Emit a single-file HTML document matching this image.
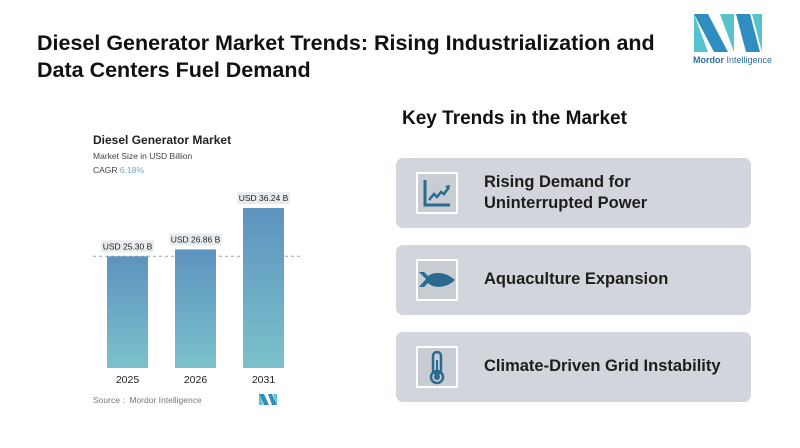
<!DOCTYPE html>
<html><head><meta charset="utf-8"><style>
body{margin:0;width:800px;height:448px;background:#fff;font-family:"Liberation Sans",sans-serif;position:relative;overflow:hidden}
.t{position:absolute}
.card{position:absolute;left:396px;width:355px;height:70px;background:#d2d6dc;border-radius:7px}
.ic{position:absolute;left:20px;top:14px;width:38px;height:38px;background:#c8cdd3;border:2px solid #fff}
.ct{position:absolute;left:88px;font-weight:bold;font-size:16.5px;color:#1d1d1d;line-height:21px}
</style></head><body>
<div class="t" style="left:37px;top:30px;font-size:21.5px;font-weight:bold;color:#111;line-height:27px">Diesel Generator Market Trends: Rising Industrialization and<br>Data Centers Fuel Demand</div>
<svg class="t" style="left:690px;top:12px" width="85" height="55">
<polygon points="4,2 18,2 38,40 24,40" fill="#2f8dbf"/><polygon points="4,2 4,40 18,40" fill="#56c3cf"/>
<polygon points="30,2 44,2 44,40" fill="#56c3cf"/><polygon points="46,2 60,2 70,40 56,40" fill="#2f8dbf"/><polygon points="62,2 72,2 72,40" fill="#56c3cf"/>
<text x="3" y="51" font-size="9" font-family="Liberation Sans" fill="#2f6f9f"><tspan font-weight="bold">Mordor</tspan> Intelligence</text></svg>
<div class="t" style="left:93px;top:133px;font-size:12px;font-weight:bold;color:#222">Diesel Generator Market</div>
<div class="t" style="left:93px;top:151px;font-size:8.5px;color:#444">Market Size in USD Billion</div>
<div class="t" style="left:93px;top:165px;font-size:8.5px;color:#444">CAGR <span style="color:#6aa7cf">6.18%</span></div>
<svg id="ch" class="t" style="left:0;top:0" width="400" height="448">
<defs><linearGradient id="g" x1="0" y1="0" x2="0" y2="1"><stop offset="0" stop-color="#5d93bf"/><stop offset="1" stop-color="#7cc1cb"/></linearGradient></defs>
</svg>
<div class="t" style="left:93px;top:395px;font-size:8.5px;color:#777">Source :&nbsp; Mordor Intelligence</div>
<svg class="t" style="left:259px;top:394px" width="18" height="11"><polygon points="0,0 5,0 10,11 5,11" fill="#2f8dbf"/><polygon points="0,0 0,11 4,11" fill="#56c3cf"/><polygon points="9,0 13,0 18,11 13,11" fill="#2f8dbf"/><polygon points="14,0 18,0 18,11" fill="#56c3cf"/></svg>
<div class="t" style="left:402px;top:108px;font-size:19px;font-weight:bold;color:#111">Key Trends in the Market</div>
<div class="card" style="top:158px"><div class="ic"><svg width="38" height="38"><path d="M7,6 V31 H32" stroke="#2a6a8e" stroke-width="3" fill="none"/><path d="M11,26 L16,20 L19,23 L23,18 L26,20 L31,13" stroke="#2a6a8e" stroke-width="2.5" fill="none"/><path d="M27,12 L32,11 L31,16Z" fill="#2a6a8e"/></svg></div><div class="ct" style="top:14px">Rising Demand for<br>Uninterrupted Power</div></div>
<div class="card" style="top:245px"><div class="ic"><svg width="38" height="38"><path d="M1,11 L8,18 L1,26 L6,26 L10,22 C16,28 29,27 37,19 C29,11 16,10 10,15 L6,11Z" fill="#2a6a8e"/></svg></div><div class="ct" style="top:24px">Aquaculture Expansion</div></div>
<div class="card" style="top:332px"><div class="ic"><svg width="38" height="38"><rect x="15" y="4" width="8" height="22" rx="4" fill="none" stroke="#2a6a8e" stroke-width="2.5"/><circle cx="19" cy="29" r="6" fill="none" stroke="#2a6a8e" stroke-width="2.5"/><circle cx="19" cy="29" r="3" fill="#2a6a8e"/><rect x="18" y="12" width="2" height="15" fill="#2a6a8e"/></svg></div><div class="ct" style="top:24px">Climate-Driven Grid Instability</div></div>
<script>
const categories=["2025","2026","2031"];
const values=[25.30,26.86,36.24];
const labels=["USD 25.30 B","USD 26.86 B","USD 36.24 B"];
const svg=document.getElementById('ch');const NS="http://www.w3.org/2000/svg";
const base=368,scale=160/36.24,x0=107,step=68,bw=41;
const y=v=>base-v*scale, x=i=>x0+i*step;
function mk(t,a){const e=document.createElementNS(NS,t);for(const k in a)e.setAttribute(k,a[k]);svg.appendChild(e);return e;}
const dl=mk('line',{x1:93,x2:300,y1:y(values[0]),y2:y(values[0]),stroke:'#9aa4ad','stroke-dasharray':'3,3','stroke-width':1});


values.forEach((v,i)=>{
const r=mk('rect',{x:x(i),y:y(v),width:bw,height:v*scale,fill:'url(#g)'});


const p=mk('rect',{x:x(i)-6,y:y(v)-16,width:bw+12,height:12,rx:2,fill:'#e9ecef'});


const t=mk('text',{x:x(i)+bw/2,y:y(v)-7,'text-anchor':'middle','font-size':8.5,fill:'#222','font-family':'Liberation Sans'});t.textContent=labels[i];


const c=mk('text',{x:x(i)+bw/2,y:383,'text-anchor':'middle','font-size':10.5,fill:'#222','font-family':'Liberation Sans'});c.textContent=categories[i];


});
</script>
</body></html>
